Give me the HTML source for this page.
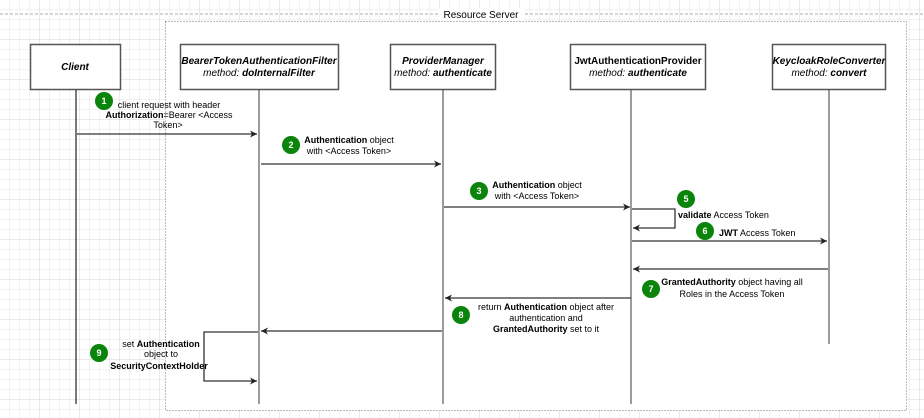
<!DOCTYPE html>
<html><head><meta charset="utf-8"><style>
body{margin:0;background:#fff}
svg{display:block;font-family:"Liberation Sans",Arial,sans-serif}
</style></head><body>
<svg width="924" height="418" xmlns="http://www.w3.org/2000/svg">
<defs>
<pattern id="g" width="10" height="10" patternUnits="userSpaceOnUse"><path d="M10 0V10H0" fill="none" stroke="#e6e6e6" stroke-width="1"/></pattern>
<pattern id="G" width="40" height="40" patternUnits="userSpaceOnUse"><rect width="40" height="40" fill="url(#g)"/><path d="M40 0V40H0" fill="none" stroke="#d4d4d4" stroke-width="1"/></pattern>
<marker id="a" markerWidth="8" markerHeight="8" refX="7" refY="4" orient="auto" markerUnits="userSpaceOnUse"><path d="M0,0.5 L7,4 L0,7.5 L2,4z" fill="#222"/></marker>
</defs>
<rect width="924" height="418" fill="url(#G)"/>
<rect x="165" y="21" width="742" height="389" fill="#fff"/>
<line x1="0" y1="14" x2="924" y2="14" stroke="#aaa" stroke-dasharray="3,2"/>
<rect x="165.5" y="21.5" width="741" height="389" fill="none" stroke="#777" stroke-dasharray="1,2"/>
<rect x="438" y="8" width="86" height="12" fill="#fff"/>
<text x="481" y="18" font-size="10" text-anchor="middle" fill="#000">Resource Server</text>
<g fill="#fff" stroke="#555" stroke-width="1.5">
<rect x="30.5" y="44.5" width="90" height="45"/>
<rect x="180.5" y="44.5" width="158" height="45"/>
<rect x="390.5" y="44.5" width="105" height="45"/>
<rect x="570.5" y="44.5" width="135" height="45"/>
<rect x="772.5" y="44.5" width="113" height="45"/>
</g>
<g stroke="#666" stroke-width="1.3">
<line x1="76" y1="90" x2="76" y2="404" stroke="#333"/>
<line x1="259" y1="90" x2="259" y2="404"/>
<line x1="443" y1="90" x2="443" y2="404"/>
<line x1="631" y1="90" x2="631" y2="404"/>
<line x1="829" y1="90" x2="829" y2="344"/>
</g>
<g font-size="10" text-anchor="middle" fill="#000">
<text x="75" y="70" font-weight="bold" font-style="italic">Client</text>
<text x="259" y="64" font-weight="bold" font-style="italic">BearerTokenAuthenticationFilter</text>
<text x="259" y="76" font-style="italic">method: <tspan font-weight="bold">doInternalFilter</tspan></text>
<text x="443" y="64" font-weight="bold" font-style="italic">ProviderManager</text>
<text x="443" y="76" font-style="italic">method: <tspan font-weight="bold">authenticate</tspan></text>
<text x="638" y="64" font-weight="bold">JwtAuthenticationProvider</text>
<text x="638" y="76" font-style="italic">method: <tspan font-weight="bold">authenticate</tspan></text>
<text x="829" y="64" font-weight="bold" font-style="italic">KeycloakRoleConverter</text>
<text x="829" y="76" font-style="italic">method: <tspan font-weight="bold">convert</tspan></text>
</g>
<g stroke="#333" stroke-width="1.3" fill="none" marker-end="url(#a)">
<line x1="77" y1="134" x2="257" y2="134"/>
<line x1="261" y1="164" x2="441" y2="164"/>
<line x1="444" y1="207" x2="630" y2="207"/>
<path d="M632 209H675V228H633"/>
<line x1="632" y1="241" x2="827" y2="241"/>
<line x1="828" y1="269" x2="633" y2="269"/>
<line x1="631" y1="298" x2="445" y2="298"/>
<line x1="442" y1="331" x2="261" y2="331"/>
<path d="M258 332H204V381H257"/>
</g>
<g fill="#0a840a">
<circle cx="104" cy="101" r="9"/><circle cx="291" cy="145" r="9"/><circle cx="479" cy="191" r="9"/>
<circle cx="686" cy="199" r="9"/><circle cx="705" cy="231" r="9"/><circle cx="651" cy="289" r="9"/>
<circle cx="461" cy="315" r="9"/><circle cx="99" cy="353" r="9"/>
</g>
<g fill="#fff" font-size="9" font-weight="bold" text-anchor="middle">
<text x="104" y="104">1</text><text x="291" y="148">2</text><text x="479" y="194">3</text>
<text x="686" y="202">5</text><text x="705" y="234">6</text><text x="651" y="292">7</text>
<text x="461" y="318">8</text><text x="99" y="356">9</text>
</g>
<g font-size="9" fill="#000" text-anchor="middle">
<text x="169" y="108">client request with header</text>
<text x="169" y="118"><tspan font-weight="bold">Authorization</tspan>=Bearer &lt;Access</text>
<text x="168" y="128">Token&gt;</text>
<text x="349" y="143"><tspan font-weight="bold">Authentication</tspan> object</text>
<text x="349" y="154">with &lt;Access Token&gt;</text>
<text x="537" y="188"><tspan font-weight="bold">Authentication</tspan> object</text>
<text x="537" y="199">with &lt;Access Token&gt;</text>
<text x="678" y="218" text-anchor="start"><tspan font-weight="bold">validate</tspan> Access Token</text>
<text x="719" y="236" text-anchor="start"><tspan font-weight="bold">JWT</tspan> Access Token</text>
<text x="732" y="285"><tspan font-weight="bold">GrantedAuthority</tspan> object having all</text>
<text x="732" y="297">Roles in the Access Token</text>
<text x="546" y="310">return <tspan font-weight="bold">Authentication</tspan> object after</text>
<text x="546" y="321">authentication and</text>
<text x="546" y="332"><tspan font-weight="bold">GrantedAuthority</tspan> set to it</text>
<text x="161" y="347">set <tspan font-weight="bold">Authentication</tspan></text>
<text x="161" y="357">object to</text>
<text x="159" y="369" font-weight="bold">SecurityContextHolder</text>
</g>
</svg>
</body></html>
